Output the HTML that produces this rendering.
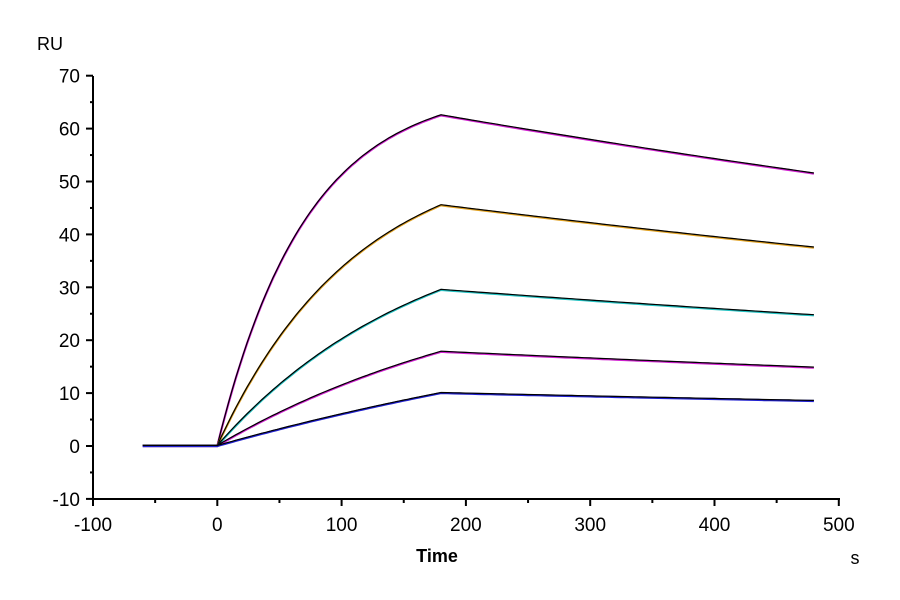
<!DOCTYPE html>
<html><head><meta charset="utf-8"><style>
body{margin:0;background:#fff}
svg{display:block;font-family:"Liberation Sans",Arial,sans-serif}
</style></head><body>
<svg id="s" width="900" height="600" xmlns="http://www.w3.org/2000/svg">
<rect width="900" height="600" fill="#fff"/>
<g stroke="#000" stroke-width="2" fill="none">
<line x1="93" y1="76" x2="93" y2="499"/>
<line x1="93" y1="499" x2="840" y2="499"/>
</g>
<g id="ticks" stroke="#000" stroke-width="2"></g>
<g font-size="19" fill="#000" id="labels"></g>
<text x="37" y="50" font-size="18">RU</text>
<text x="437" y="562" font-size="18" font-weight="bold" text-anchor="middle">Time</text>
<text x="855" y="564" font-size="18" text-anchor="middle">s</text>
<g id="curves" fill="none"></g>
</svg>
<script>
const X=t=>93+(t+100)*1.243, Y=v=>446-v*5.29;
let tk='',lb='';
for(let v=-10;v<=70;v+=5){const y=Y(v);const big=v%10==0;tk+=`<line x1="${big?86:90}" y1="${y}" x2="93" y2="${y}"/>`;if(big)lb+=`<text x="80" y="${y+7}" text-anchor="end">${v}</text>`;}
for(let t=-100;t<=500;t+=50){const x=X(t);const big=t%100==0;tk+=`<line x1="${x}" y1="499" x2="${x}" y2="${big?506:503}"/>`;if(big)lb+=`<text x="${x}" y="531" text-anchor="middle">${t}</text>`;}
document.getElementById('ticks').innerHTML=tk;document.getElementById('labels').innerHTML=lb;
const series=[[62.5,0.014,51.5,'#d020d0'],[45.5,0.009,37.5,'#e0a020'],[29.5,0.006,24.7,'#20c0c0'],[17.8,0.004,14.8,'#d020d0'],[10,0.002,8.5,'#2020d0']];
let h='';
series.forEach(([r,k,f,c])=>{
 const A=r/(1-Math.exp(-k*180));
 let p=[];
 for(let t=0;t<=180;t+=3)p.push([t,A*(1-Math.exp(-k*t))]);
 const kd=Math.log(r/f)/300;
 for(let t=180;t<=480;t+=5)p.push([t,r*Math.exp(-kd*(t-180))]);
 const d=p.map((q,i)=>(i?'L':'M')+X(q[0]).toFixed(1)+' '+Y(q[1]).toFixed(1)).join(' ');
 h+=`<path d="M${X(-60)} ${Y(0)} L${X(0)} ${Y(0)} ${d.replace('M','L')}" stroke="${c}" stroke-width="2.2"/>`;
 h+=`<path d="M${X(-60)} ${Y(0)} L${X(0)} ${Y(0)} ${d.replace('M','L')}" stroke="#000" stroke-width="1.2" transform="translate(0,-0.6)"/>`;
});
document.getElementById('curves').innerHTML=h;
</script>
</body></html>
